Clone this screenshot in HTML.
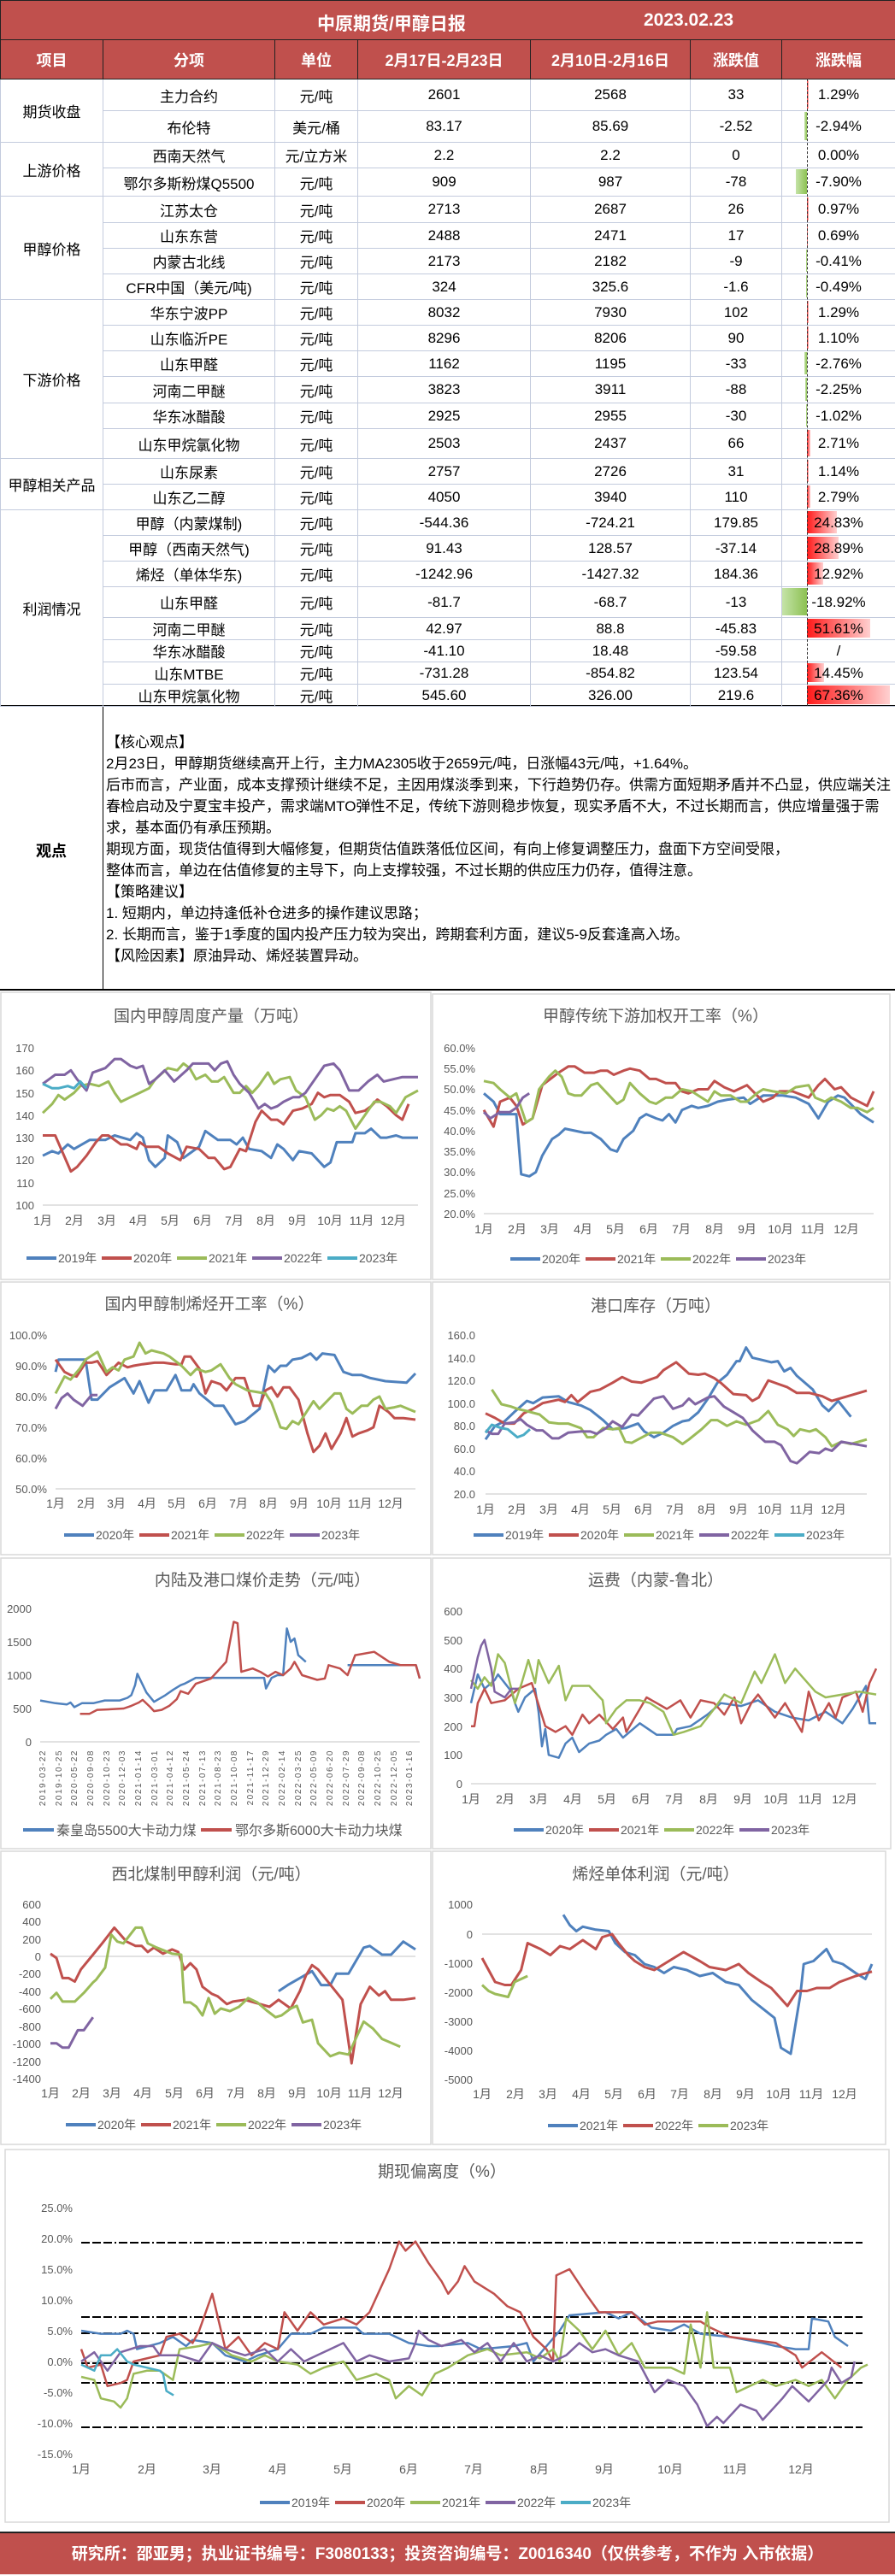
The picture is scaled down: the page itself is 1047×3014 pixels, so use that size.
<!DOCTYPE html>
<html><head><meta charset="utf-8"><style>
*{margin:0;padding:0;box-sizing:border-box}
body{width:1047px;height:3012px;position:relative;background:#fff;font-family:"Liberation Sans","Noto Sans CJK SC",sans-serif;overflow:hidden}
table{position:absolute;left:0;top:0;width:1047px;border-collapse:collapse;table-layout:fixed;z-index:2}
td{border:1px solid #c3cbdd;text-align:center;font-size:17px;color:#000;white-space:nowrap;overflow:hidden;padding:0;background:transparent}
tr.h td{background:#c0504d;color:#fff;font-weight:bold;font-size:18px;border-color:#222}
#bars{position:absolute;left:0;top:0;z-index:1}
.bar{position:absolute}
.r{background:linear-gradient(to right,#ff1a1a,#ffd0d0)}
.g{background:linear-gradient(to right,#c5e3a8,#8cc152)}
#view{position:absolute;left:0;top:825px;width:1047px;height:334px;border-top:2px solid #000;border-bottom:2px solid #000}
#view .l{position:absolute;left:120px;top:0;bottom:0;border-left:1px solid #000}
#view .t{position:absolute;left:0;width:120px;top:155px;text-align:center;font-weight:bold;font-size:18px}
#view p{position:absolute;left:124px;font-size:17px;white-space:nowrap;line-height:20px}
#foot{position:absolute;left:0;top:2962px;width:1047px;height:50px;background:#c0504d;color:#fff;font-weight:bold;font-size:19px;text-align:center;line-height:50px;border-top:2px solid #222}
svg{position:absolute;left:0;top:0}
svg text{font-family:"Liberation Sans","Noto Sans CJK SC",sans-serif;fill:#595959}
</style></head><body>
<div id="bars"></div>
<table>
<colgroup><col style="width:120px"><col style="width:201px"><col style="width:97px"><col style="width:202px"><col style="width:187px"><col style="width:107px"><col style="width:133px"></colgroup>
<tr class="h" style="height:46px"><td colspan="7" style="position:relative;font-size:21px"><span style="position:absolute;left:370px;top:11px">中原期货/甲醇日报</span><span style="position:absolute;left:752px;top:11px">2023.02.23</span></td></tr>
<tr class="h" style="height:46px"><td>项目</td><td>分项</td><td>单位</td><td>2月17日-2月23日</td><td>2月10日-2月16日</td><td>涨跌值</td><td>涨跌幅</td></tr>
<tr style="height:37px"><td rowspan="2">期货收盘</td><td>主力合约</td><td>元/吨</td><td>2601</td><td>2568</td><td>33</td><td>1.29%</td></tr>
<tr style="height:37px"><td>布伦特</td><td>美元/桶</td><td>83.17</td><td>85.69</td><td>-2.52</td><td>-2.94%</td></tr>
<tr style="height:30px"><td rowspan="2">上游价格</td><td>西南天然气</td><td>元/立方米</td><td>2.2</td><td>2.2</td><td>0</td><td>0.00%</td></tr>
<tr style="height:33px"><td>鄂尔多斯粉煤Q5500</td><td>元/吨</td><td>909</td><td>987</td><td>-78</td><td>-7.90%</td></tr>
<tr style="height:31px"><td rowspan="4">甲醇价格</td><td>江苏太仓</td><td>元/吨</td><td>2713</td><td>2687</td><td>26</td><td>0.97%</td></tr>
<tr style="height:30px"><td>山东东营</td><td>元/吨</td><td>2488</td><td>2471</td><td>17</td><td>0.69%</td></tr>
<tr style="height:30px"><td>内蒙古北线</td><td>元/吨</td><td>2173</td><td>2182</td><td>-9</td><td>-0.41%</td></tr>
<tr style="height:30px"><td>CFR中国（美元/吨)</td><td>元/吨</td><td>324</td><td>325.6</td><td>-1.6</td><td>-0.49%</td></tr>
<tr style="height:30px"><td rowspan="6">下游价格</td><td>华东宁波PP</td><td>元/吨</td><td>8032</td><td>7930</td><td>102</td><td>1.29%</td></tr>
<tr style="height:30px"><td>山东临沂PE</td><td>元/吨</td><td>8296</td><td>8206</td><td>90</td><td>1.10%</td></tr>
<tr style="height:30px"><td>山东甲醛</td><td>元/吨</td><td>1162</td><td>1195</td><td>-33</td><td>-2.76%</td></tr>
<tr style="height:31px"><td>河南二甲醚</td><td>元/吨</td><td>3823</td><td>3911</td><td>-88</td><td>-2.25%</td></tr>
<tr style="height:30px"><td>华东冰醋酸</td><td>元/吨</td><td>2925</td><td>2955</td><td>-30</td><td>-1.02%</td></tr>
<tr style="height:35px"><td>山东甲烷氯化物</td><td>元/吨</td><td>2503</td><td>2437</td><td>66</td><td>2.71%</td></tr>
<tr style="height:30px"><td rowspan="2">甲醇相关产品</td><td>山东尿素</td><td>元/吨</td><td>2757</td><td>2726</td><td>31</td><td>1.14%</td></tr>
<tr style="height:30px"><td>山东乙二醇</td><td>元/吨</td><td>4050</td><td>3940</td><td>110</td><td>2.79%</td></tr>
<tr style="height:30px"><td rowspan="8">利润情况</td><td>甲醇（内蒙煤制)</td><td>元/吨</td><td>-544.36</td><td>-724.21</td><td>179.85</td><td>24.83%</td></tr>
<tr style="height:30px"><td>甲醇（西南天然气)</td><td>元/吨</td><td>91.43</td><td>128.57</td><td>-37.14</td><td>28.89%</td></tr>
<tr style="height:30px"><td>烯烃（单体华东)</td><td>元/吨</td><td>-1242.96</td><td>-1427.32</td><td>184.36</td><td>12.92%</td></tr>
<tr style="height:36px"><td>山东甲醛</td><td>元/吨</td><td>-81.7</td><td>-68.7</td><td>-13</td><td>-18.92%</td></tr>
<tr style="height:26px"><td>河南二甲醚</td><td>元/吨</td><td>42.97</td><td>88.8</td><td>-45.83</td><td>51.61%</td></tr>
<tr style="height:26px"><td>华东冰醋酸</td><td>元/吨</td><td>-41.10</td><td>18.48</td><td>-59.58</td><td>/</td></tr>
<tr style="height:26px"><td>山东MTBE</td><td>元/吨</td><td>-731.28</td><td>-854.82</td><td>123.54</td><td>14.45%</td></tr>
<tr style="height:26px"><td>山东甲烷氯化物</td><td>元/吨</td><td>545.60</td><td>326.00</td><td>219.6</td><td>67.36%</td></tr>
</table>
<div style="position:absolute;left:944px;top:92px;height:734px;border-left:1px dashed #333;z-index:3"></div>

<div id="view"><div class="l"></div><div class="t">观点</div>
<p style="top:32px">【核心观点】</p>
<p style="top:57px">2月23日，甲醇期货继续高开上行，主力MA2305收于2659元/吨，日涨幅43元/吨，+1.64%。</p>
<p style="top:82px">后市而言，产业面，成本支撑预计继续不足，主因用煤淡季到来，下行趋势仍存。供需方面短期矛盾并不凸显，供应端关注</p>
<p style="top:107px">春检启动及宁夏宝丰投产，需求端MTO弹性不足，传统下游则稳步恢复，现实矛盾不大，不过长期而言，供应增量强于需</p>
<p style="top:132px">求，基本面仍有承压预期。</p>
<p style="top:157px">期现方面，现货估值得到大幅修复，但期货估值跌落低位区间，有向上修复调整压力，盘面下方空间受限，</p>
<p style="top:182px">整体而言，单边在估值修复的主导下，向上支撑较强，不过长期的供应压力仍存，值得注意。</p>
<p style="top:207px">【策略建议】</p>
<p style="top:232px">1. 短期内，单边持逢低补仓进多的操作建议思路；</p>
<p style="top:257px">2. 长期而言，鉴于1季度的国内投产压力较为突出，跨期套利方面，建议5-9反套逢高入场。</p>
<p style="top:282px">【风险因素】原油异动、烯烃装置异动。</p>
</div>

<svg id="ch" width="1047" height="3012" viewBox="0 0 1047 3012">
<g fill="none" stroke="#d9d9d9" stroke-width="1.5">
<rect x="1" y="1161" width="503" height="336"/><rect x="506" y="1163" width="535" height="334"/>
<rect x="1" y="1500" width="503" height="319"/><rect x="506" y="1500" width="535" height="319"/>
<rect x="1" y="1823" width="503" height="340"/><rect x="506" y="1823" width="536" height="340"/>
<rect x="1" y="2166" width="503" height="343"/><rect x="506" y="2166" width="530" height="343"/>
<rect x="6" y="2515" width="1034" height="436"/>
</g>
<g font-size="19" text-anchor="middle">
<text x="247" y="1195">国内甲醇周度产量（万吨）</text>
<text x="767" y="1195">甲醇传统下游加权开工率（%）</text>
<text x="245" y="1532">国内甲醇制烯烃开工率（%）</text>
<text x="767" y="1534">港口库存（万吨）</text>
<text x="307" y="1855">内陆及港口煤价走势（元/吨）</text>
<text x="767" y="1855">运费（内蒙-鲁北）</text>
<text x="247" y="2199">西北煤制甲醇利润（元/吨）</text>
<text x="767" y="2199">烯烃单体利润（元/吨）</text>
<text x="517" y="2547">期现偏离度（%）</text>
</g>
<g stroke="#d9d9d9" stroke-width="1.5">
<line x1="50" y1="1410" x2="489" y2="1410"/><line x1="566" y1="1420" x2="1022" y2="1420"/>
<line x1="65" y1="1742" x2="486" y2="1742"/><line x1="568" y1="1748" x2="1014" y2="1748"/>
<line x1="47" y1="2038" x2="491" y2="2038"/><line x1="551" y1="2087" x2="1025" y2="2087"/>
<line x1="59" y1="2289" x2="486" y2="2289"/><line x1="564" y1="2263" x2="1020" y2="2263"/>
<line x1="95" y1="2763" x2="1009" y2="2763"/>
</g>
<g font-size="13" text-anchor="end">
<text x="40" y="1231">170</text><text x="40" y="1257">160</text><text x="40" y="1284">150</text><text x="40" y="1310">140</text><text x="40" y="1336">130</text><text x="40" y="1362">120</text><text x="40" y="1389">110</text><text x="40" y="1415">100</text>
<text x="556" y="1231">60.0%</text><text x="556" y="1255">55.0%</text><text x="556" y="1279">50.0%</text><text x="556" y="1304">45.0%</text><text x="556" y="1328">40.0%</text><text x="556" y="1352">35.0%</text><text x="556" y="1376">30.0%</text><text x="556" y="1401">25.0%</text><text x="556" y="1425">20.0%</text>
<text x="55" y="1567">100.0%</text><text x="55" y="1603">90.0%</text><text x="55" y="1639">80.0%</text><text x="55" y="1675">70.0%</text><text x="55" y="1711">60.0%</text><text x="55" y="1747">50.0%</text>
<text x="556" y="1567">160.0</text><text x="556" y="1594">140.0</text><text x="556" y="1620">120.0</text><text x="556" y="1647">100.0</text><text x="556" y="1673">80.0</text><text x="556" y="1700">60.0</text><text x="556" y="1726">40.0</text><text x="556" y="1753">20.0</text>
<text x="37" y="1887">2000</text><text x="37" y="1926">1500</text><text x="37" y="1965">1000</text><text x="37" y="2004">500</text><text x="37" y="2043">0</text>
<text x="541" y="1890">600</text><text x="541" y="1924">500</text><text x="541" y="1957">400</text><text x="541" y="1991">300</text><text x="541" y="2025">200</text><text x="541" y="2058">100</text><text x="541" y="2092">0</text>
<text x="48" y="2233">600</text><text x="48" y="2253">400</text><text x="48" y="2274">200</text><text x="48" y="2294">0</text><text x="48" y="2314">-200</text><text x="48" y="2335">-400</text><text x="48" y="2355">-600</text><text x="48" y="2376">-800</text><text x="48" y="2396">-1000</text><text x="48" y="2417">-1200</text><text x="48" y="2437">-1400</text>
<text x="553" y="2233">1000</text><text x="553" y="2268">0</text><text x="553" y="2302">-1000</text><text x="553" y="2336">-2000</text><text x="553" y="2370">-3000</text><text x="553" y="2404">-4000</text><text x="553" y="2438">-5000</text>
<text x="85" y="2588">25.0%</text><text x="85" y="2624">20.0%</text><text x="85" y="2660">15.0%</text><text x="85" y="2696">10.0%</text><text x="85" y="2732">5.0%</text><text x="85" y="2768">0.0%</text><text x="85" y="2804">-5.0%</text><text x="85" y="2840">-10.0%</text><text x="85" y="2876">-15.0%</text>
</g>
<g font-size="14" text-anchor="middle">
<g transform="translate(0,1433)"><text x="50">1月</text><text x="87">2月</text><text x="125">3月</text><text x="162">4月</text><text x="199">5月</text><text x="237">6月</text><text x="274">7月</text><text x="311">8月</text><text x="348">9月</text><text x="386">10月</text><text x="423">11月</text><text x="460">12月</text></g>
<g transform="translate(516,1443)"><text x="50">1月</text><text x="89">2月</text><text x="127">3月</text><text x="166">4月</text><text x="204">5月</text><text x="243">6月</text><text x="281">7月</text><text x="320">8月</text><text x="358">9月</text><text x="397">10月</text><text x="435">11月</text><text x="474">12月</text></g>
<g transform="translate(15,1764)"><text x="50">1月</text><text x="86">2月</text><text x="121">3月</text><text x="157">4月</text><text x="192">5月</text><text x="228">6月</text><text x="264">7月</text><text x="299">8月</text><text x="335">9月</text><text x="370">10月</text><text x="406">11月</text><text x="442">12月</text></g>
<g transform="translate(518,1771)"><text x="50">1月</text><text x="87">2月</text><text x="124">3月</text><text x="161">4月</text><text x="198">5月</text><text x="235">6月</text><text x="272">7月</text><text x="309">8月</text><text x="346">9月</text><text x="383">10月</text><text x="420">11月</text><text x="457">12月</text></g>
<g transform="translate(501,2110)"><text x="50">1月</text><text x="90">2月</text><text x="129">3月</text><text x="169">4月</text><text x="209">5月</text><text x="249">6月</text><text x="288">7月</text><text x="328">8月</text><text x="368">9月</text><text x="407">10月</text><text x="447">11月</text><text x="487">12月</text></g>
<g transform="translate(9,2454)"><text x="50">1月</text><text x="86">2月</text><text x="122">3月</text><text x="158">4月</text><text x="195">5月</text><text x="231">6月</text><text x="267">7月</text><text x="303">8月</text><text x="339">9月</text><text x="376">10月</text><text x="412">11月</text><text x="448">12月</text></g>
<g transform="translate(514,2455)"><text x="50">1月</text><text x="89">2月</text><text x="127">3月</text><text x="166">4月</text><text x="204">5月</text><text x="243">6月</text><text x="281">7月</text><text x="320">8月</text><text x="358">9月</text><text x="397">10月</text><text x="435">11月</text><text x="474">12月</text></g>
<g transform="translate(45,2894)"><text x="50">1月</text><text x="127">2月</text><text x="203">3月</text><text x="280">4月</text><text x="356">5月</text><text x="433">6月</text><text x="509">7月</text><text x="586">8月</text><text x="662">9月</text><text x="739">10月</text><text x="815">11月</text><text x="892">12月</text></g>
</g>
<g font-size="10" text-anchor="end" letter-spacing="1.5">
<text transform="rotate(-90 53 2047)" x="53" y="2047">2019-03-22</text><text transform="rotate(-90 72 2047)" x="72" y="2047">2019-10-25</text><text transform="rotate(-90 90 2047)" x="90" y="2047">2020-05-22</text><text transform="rotate(-90 109 2047)" x="109" y="2047">2020-09-08</text><text transform="rotate(-90 128 2047)" x="128" y="2047">2020-10-23</text><text transform="rotate(-90 146 2047)" x="146" y="2047">2020-12-03</text><text transform="rotate(-90 165 2047)" x="165" y="2047">2021-01-14</text><text transform="rotate(-90 184 2047)" x="184" y="2047">2021-03-01</text><text transform="rotate(-90 202 2047)" x="202" y="2047">2021-04-12</text><text transform="rotate(-90 221 2047)" x="221" y="2047">2021-05-24</text><text transform="rotate(-90 240 2047)" x="240" y="2047">2021-07-13</text><text transform="rotate(-90 258 2047)" x="258" y="2047">2021-08-23</text><text transform="rotate(-90 277 2047)" x="277" y="2047">2021-10-08</text><text transform="rotate(-90 296 2047)" x="296" y="2047">2021-11-17</text><text transform="rotate(-90 314 2047)" x="314" y="2047">2021-12-29</text><text transform="rotate(-90 333 2047)" x="333" y="2047">2022-02-14</text><text transform="rotate(-90 352 2047)" x="352" y="2047">2022-03-25</text><text transform="rotate(-90 370 2047)" x="370" y="2047">2022-05-09</text><text transform="rotate(-90 389 2047)" x="389" y="2047">2022-06-20</text><text transform="rotate(-90 408 2047)" x="408" y="2047">2022-07-29</text><text transform="rotate(-90 426 2047)" x="426" y="2047">2022-09-08</text><text transform="rotate(-90 445 2047)" x="445" y="2047">2022-10-25</text><text transform="rotate(-90 464 2047)" x="464" y="2047">2022-12-05</text><text transform="rotate(-90 482 2047)" x="482" y="2047">2023-01-16</text>
</g>
<g stroke="#000" stroke-width="2" stroke-dasharray="10,3,10,3,10,3,2,3">
<line x1="95" y1="2624" x2="1009" y2="2624"/><line x1="95" y1="2711" x2="1009" y2="2711"/><line x1="95" y1="2730" x2="1009" y2="2730"/><line x1="95" y1="2765" x2="1009" y2="2765"/><line x1="95" y1="2788" x2="1009" y2="2788"/><line x1="95" y1="2840" x2="1009" y2="2840"/>
</g>
<g id="series" fill="none" stroke-linejoin="round"></g>
<g font-size="14" id="leg">
<g transform="translate(31,1472)"><line x1="0" x2="35" stroke="#4f81bd" stroke-width="4"/><text x="37" y="5">2019年</text><line x1="88" x2="123" stroke="#c0504d" stroke-width="4"/><text x="125" y="5">2020年</text><line x1="176" x2="211" stroke="#9bbb59" stroke-width="4"/><text x="213" y="5">2021年</text><line x1="264" x2="299" stroke="#8064a2" stroke-width="4"/><text x="301" y="5">2022年</text><line x1="352" x2="387" stroke="#4bacc6" stroke-width="4"/><text x="389" y="5">2023年</text></g>
<g transform="translate(597,1473)"><line x1="0" x2="35" stroke="#4f81bd" stroke-width="4"/><text x="37" y="5">2020年</text><line x1="88" x2="123" stroke="#c0504d" stroke-width="4"/><text x="125" y="5">2021年</text><line x1="176" x2="211" stroke="#9bbb59" stroke-width="4"/><text x="213" y="5">2022年</text><line x1="264" x2="299" stroke="#8064a2" stroke-width="4"/><text x="301" y="5">2023年</text></g>
<g transform="translate(75,1796)"><line x1="0" x2="35" stroke="#4f81bd" stroke-width="4"/><text x="37" y="5">2020年</text><line x1="88" x2="123" stroke="#c0504d" stroke-width="4"/><text x="125" y="5">2021年</text><line x1="176" x2="211" stroke="#9bbb59" stroke-width="4"/><text x="213" y="5">2022年</text><line x1="264" x2="299" stroke="#8064a2" stroke-width="4"/><text x="301" y="5">2023年</text></g>
<g transform="translate(554,1796)"><line x1="0" x2="35" stroke="#4f81bd" stroke-width="4"/><text x="37" y="5">2019年</text><line x1="88" x2="123" stroke="#c0504d" stroke-width="4"/><text x="125" y="5">2020年</text><line x1="176" x2="211" stroke="#9bbb59" stroke-width="4"/><text x="213" y="5">2021年</text><line x1="264" x2="299" stroke="#8064a2" stroke-width="4"/><text x="301" y="5">2022年</text><line x1="352" x2="387" stroke="#4bacc6" stroke-width="4"/><text x="389" y="5">2023年</text></g>
<g transform="translate(27,2141)" font-size="16"><line x1="0" x2="36" stroke="#4f81bd" stroke-width="4"/><text x="39" y="6">秦皇岛5500大卡动力煤</text><line x1="208" x2="244" stroke="#c0504d" stroke-width="4"/><text x="248" y="6">鄂尔多斯6000大卡动力块煤</text></g>
<g transform="translate(601,2141)"><line x1="0" x2="35" stroke="#4f81bd" stroke-width="4"/><text x="37" y="5">2020年</text><line x1="88" x2="123" stroke="#c0504d" stroke-width="4"/><text x="125" y="5">2021年</text><line x1="176" x2="211" stroke="#9bbb59" stroke-width="4"/><text x="213" y="5">2022年</text><line x1="264" x2="299" stroke="#8064a2" stroke-width="4"/><text x="301" y="5">2023年</text></g>
<g transform="translate(77,2486)"><line x1="0" x2="35" stroke="#4f81bd" stroke-width="4"/><text x="37" y="5">2020年</text><line x1="88" x2="123" stroke="#c0504d" stroke-width="4"/><text x="125" y="5">2021年</text><line x1="176" x2="211" stroke="#9bbb59" stroke-width="4"/><text x="213" y="5">2022年</text><line x1="264" x2="299" stroke="#8064a2" stroke-width="4"/><text x="301" y="5">2023年</text></g>
<g transform="translate(641,2487)"><line x1="0" x2="35" stroke="#4f81bd" stroke-width="4"/><text x="37" y="5">2021年</text><line x1="88" x2="123" stroke="#c0504d" stroke-width="4"/><text x="125" y="5">2022年</text><line x1="176" x2="211" stroke="#9bbb59" stroke-width="4"/><text x="213" y="5">2023年</text></g>
<g transform="translate(304,2928)"><line x1="0" x2="35" stroke="#4f81bd" stroke-width="4"/><text x="37" y="5">2019年</text><line x1="88" x2="123" stroke="#c0504d" stroke-width="4"/><text x="125" y="5">2020年</text><line x1="176" x2="211" stroke="#9bbb59" stroke-width="4"/><text x="213" y="5">2021年</text><line x1="264" x2="299" stroke="#8064a2" stroke-width="4"/><text x="301" y="5">2022年</text><line x1="352" x2="387" stroke="#4bacc6" stroke-width="4"/><text x="389" y="5">2023年</text></g>
</g>
</svg>
<div id="foot">研究所：邵亚男；执业证书编号：F3080133；投资咨询编号：Z0016340（仅供参考，不作为 入市依据）</div>
<script>
(function(){
var rows=[92,129,166,196,229,260,290,320,350,380,410,440,471,501,536,566,596,626,656,686,722,748,774,800,826];
var B=[[0,'r',944,2],[1,'g',941,3],[3,'g',931,13],[4,'r',944,2],[5,'r',944,1],[6,'g',943,1],[7,'g',943,1],[8,'r',944,2],[9,'r',944,2],[10,'g',941,3],[11,'g',942,2],[12,'g',943,1],[13,'r',944,4],[14,'r',944,2],[15,'r',944,4],[16,'r',944,35],[17,'r',944,37],[18,'r',944,19],[19,'g',915,29],[20,'r',944,74],[22,'r',944,20],[23,'r',944,97]];
var h='';B.forEach(function(b){var t=rows[b[0]]+2,hh=rows[b[0]+1]-rows[b[0]]-4;h+='<div class="bar '+b[1]+'" style="left:'+b[2]+'px;top:'+t+'px;width:'+b[3]+'px;height:'+hh+'px"></div>';});
document.getElementById('bars').innerHTML=h;
var C={1:[50,489,12,100,1410,170,1226],2:[566,1022,12,20,1420,60,1226],3:[65,486,12,50,1742,100,1562],4:[568,1014,12,20,1748,160,1562],5:[47,491,1,0,2038,2000,1882],6:[551,1025,12,0,2087,600,1885],7:[59,486,12,0,2289,600,2228],8:[564,1020,12,0,2263,1000,2228],9:[95,1015,12,0,2763,20,2619]};
var col={b:'#4f81bd',r:'#c0504d',g:'#9bbb59',p:'#8064a2',c:'#4bacc6'};
var out='';
function L(k,c,a,w){var q=C[k],p=[];for(var i=0;i<a.length;i+=2){var x=q[0]+a[i]/q[2]*(q[1]-q[0]);var y=q[4]+(a[i+1]-q[3])*(q[6]-q[4])/(q[5]-q[3]);p.push(x.toFixed(1)+','+y.toFixed(1));}
out+='<polyline stroke="'+col[c]+'" stroke-width="'+(w||3)+'" points="'+p.join(' ')+'"/>';}
L(1,'b',[0,122,.3,124,.5,123,.8,127,1,125,1.5,129,2,129,2.3,131,2.8,129,3,132,3.2,130,3.4,120,3.6,117,3.9,121,4,131,4.3,128,4.5,121,4.8,124,5,126,5.2,133,5.6,129,6,129,6.2,127,6.4,130,6.6,125,7,124,7.3,121,7.5,127,7.7,125,8,120,8.2,124,8.6,123,9,117,9.2,119,9.4,128,9.9,128,10,132,10.3,132,10.5,134,10.8,130,11,130,11.3,131,11.5,130,12,130]);
L(1,'r',[0,131,.4,131,.9,115,1.1,117,1.4,122,1.7,128,1.9,131,2.1,131,2.5,127,2.7,127,3,125,3.1,128,3.3,126,3.7,126,4,123,4.4,120,4.6,126,5,125,5.3,121,5.5,121,5.8,116,6,117,6.3,125,6.5,124,6.8,137,7,142,7.3,138,7.5,138,7.7,136,8,142,8.3,143,8.6,145,8.8,150,9,148,9.2,149,9.5,149,9.8,146,10,141,10.3,142,10.5,144,10.7,147,11,144,11.3,140,11.5,138,11.7,145]);
L(1,'g',[0,141,.3,145,.5,149,.7,147,1,150,1.2,153,1.5,154,1.8,153,2.1,155,2.3,150,2.5,146,2.8,148,3.1,150,3.4,152,3.6,156,4,161,4.3,160,4.5,163,4.7,161,4.9,156,5.2,158,5.4,155,5.6,155,5.8,157,6.1,150,6.3,150,6.5,153,6.7,150,6.9,153,7.2,159,7.4,154,7.6,156,7.9,157,8.1,151,8.4,148,8.7,138,8.9,140,9.1,143,9.3,142,9.5,144,9.7,142,10,134,10.3,140,10.6,146,10.8,146,11.1,144,11.3,141,11.6,148,12,151]);
L(1,'p',[0,154,.2,156,.4,158,.7,158,.9,160,1.1,156,1.4,151,1.6,159,1.8,160,2,161,2.3,165,2.5,165,2.8,162,3,161,3.2,162,3.4,154,3.6,156,3.9,160,4.2,155,4.6,160,4.8,163,5.3,163,5.5,160,5.7,163,5.9,164,6.1,158,6.3,154,6.6,150,6.9,143,7.1,145,7.3,143,7.5,144,7.7,146,8,148,8.2,148,8.4,150,8.7,156,9,162,9.3,163,9.5,160,9.8,151,10.1,151,10.4,155,10.7,158,10.9,155,11.2,156,11.5,157,12,157]);
L(1,'c',[0,154,.3,152,.5,152,.8,153,1,152,1.2,155,1.4,152]);
L(2,'b',[0,49,.3,47,.5,44,1,44,1.15,29.5,1.4,29,1.6,30,1.8,34,2.1,38,2.3,39,2.5,40.5,2.8,40,3.1,39.5,3.3,39.5,3.6,38,3.9,35.5,4.1,35,4.3,38,4.6,40,4.8,43,5,44,5.3,43,5.5,42.5,5.7,44,5.9,42,6.1,45,6.4,46,6.6,45.5,6.9,46,7.2,47,7.5,47.5,8,48,8.2,46.5,8.6,48.5,9.2,48.5,9.6,48,10,46.5,10.3,43,10.6,47,10.9,48.5,11.1,48,11.6,44,12,42]);
L(2,'r',[0,45,.3,41,.5,47,.8,48,1,46,1.2,41.5,1.5,43,1.8,51,2.3,54,2.6,55.5,2.8,55.5,3.1,54,3.4,54,3.6,54.5,3.8,54.5,4,53.5,4.3,54.5,4.5,55,4.8,54.5,5.1,52.5,5.3,52.5,5.6,51.5,5.9,51.5,6.1,49.5,6.3,49,6.6,50,6.9,50,7.1,52,7.4,50.5,7.7,49.5,8.1,51,8.6,47,8.9,48,9.1,49.5,9.5,49.5,10,48,10.3,51,10.5,52.5,10.8,50,11,50.5,11.3,48,11.8,46,12,49.5]);
L(2,'g',[0,52,.3,51.5,.5,50,.8,48,1,49,1.3,42,1.5,43,1.7,50,2,53,2.2,54.5,2.4,53,2.6,49,2.8,48.5,3,48.5,3.3,51,3.5,51.5,3.8,49,4.1,46.5,4.3,47.5,4.5,51.5,4.8,49,5.1,47,5.3,46.5,5.6,48,5.8,48,6.1,50,6.4,49.5,6.6,48.5,6.9,47,7.1,49.5,7.3,48.5,7.6,48.5,7.9,47,8.1,47,8.4,49,8.6,50,8.9,49.5,9.3,49,9.6,50.5,10,51,10.2,48,10.5,47,10.7,48,11,47,11.3,45.5,11.5,45.5,11.8,44.5,12,45.5]);
L(2,'p',[0,44.5,.2,43,.5,44.5,.8,44.5,1,45.5,1.2,48,1.4,49]);
L(3,'b',[0,88,.1,92,1,92,1.2,79,1.4,79,1.8,83,2.3,86,2.6,81,2.8,85,3.1,78,3.3,82,3.7,82,4,87,4.2,82,4.5,82,4.6,84,4.8,81,5.3,77,5.6,77,6,71,6.3,72,6.8,76,7.1,90,7.3,88,7.5,90,7.7,90,7.9,92,8.2,92.5,8.5,94,8.7,92,8.9,94,9.3,93.5,9.6,88,9.9,87,10.2,87,10.5,86,11,85,11.7,84.5,12,87.5]);
L(3,'r',[0,92,.3,88,.5,87,.7,86.5,1,91,1.2,91,1.4,91.5,1.7,87,2,90,2.1,91,2.4,89.5,2.6,90,2.9,90.5,3.3,91,3.6,91,4,90.5,4.2,90.5,4.3,93,4.5,93,4.8,89,5,81,5.2,85,5.5,84,5.7,82,6,86,6.3,86,6.6,77,6.8,77,7,82,7.2,83,7.4,80,7.6,83,7.8,83,8.1,79,8.4,68,8.6,62,8.8,64,9,68,9.2,63,9.5,68,9.7,73,9.9,67,10.1,68,10.4,69,10.6,70,10.8,77,11.1,75,11.3,73,11.6,73,12,72.5]);
L(3,'g',[0,81,.3,86.5,.5,85.5,.8,89,1,92,1.4,94.5,1.7,88,1.9,89.5,2.1,88.5,2.3,92,2.6,93,2.8,97.5,3,94,3.2,95,3.6,94,3.8,93,4.2,90,4.5,87,4.7,89,5,88,5.2,88.5,5.5,90.5,5.8,86,6,84,6.4,82,6.7,81.5,7,81,7.2,78,7.5,70,7.7,69.5,7.9,72,8.1,71,8.3,74,8.6,78.5,8.8,76,9.1,79,9.3,81,9.5,81,9.7,76,9.9,74.5,10.2,77,10.4,77,10.6,79,10.8,80,11,76,11.3,76.5,11.5,77,12,75]);
L(3,'p',[0,76,.2,79.5,.4,81,.6,79,.9,77,1.2,80.5,1.4,80.5]);
L(4,'b',[0,68,.3,80,.6,84,.9,92,1.3,102,1.5,100,1.8,105,2.3,106,2.6,101,3,98,3.3,94,3.7,85,4,77,4.4,78,4.8,82,5,75,5.3,70,5.6,74,5.9,80,6.2,84,6.4,85,6.7,92,7,104,7.3,118,7.6,125,7.9,137,8,137,8.2,149,8.4,140,8.7,138,9,136,9.2,137,9.4,128,9.6,131,9.8,124,10.3,112,10.6,98,10.8,93,11.1,102,11.5,88]);
L(4,'r',[0,91,.3,87,.6,82,.9,82,1.2,91,1.5,95,1.8,100,2.3,103,2.5,101,2.7,107,2.9,101,3.3,110,3.6,112,4,118,4.3,123,4.6,119,4.9,118,5.2,121,5.4,123,5.6,129,6,136,6.2,131,6.4,126,6.7,125,6.9,126,7.2,122,7.4,118,7.8,108,8.2,107,8.4,102,8.6,105,8.9,120,9.2,117,9.5,114,9.8,109,10.2,109,10.6,106,10.9,102,12,111]);
L(4,'g',[.2,112,.5,99,.8,97,1,95,1.3,93,1.7,90,2,83,2.3,82,2.6,82,3,78,3.2,70,3.4,70,3.7,78,4,77,4.2,78,4.4,66,4.6,65,4.8,68,5.2,74,5.5,74,5.9,70,6.2,64,6.4,68,6.8,77,7.1,85,7.3,85,7.6,80,7.9,84,8.2,81,8.6,85,8.9,93,9.2,81,9.5,77,9.7,71,9.9,77,10.2,75,10.4,77,10.7,70,10.9,62,11.2,66,11.5,64,12,68]);
L(4,'p',[0,76,.2,73,.4,73,.6,82,.9,83,1.1,86,1.3,81,1.6,76,1.8,76,2.1,69,2.3,69,2.6,74,3,75,3.3,75,3.5,73,3.8,78,4,84,4.3,79,4.6,90,4.8,89,5.1,98,5.3,104,5.6,106,5.9,95,6.2,98,6.4,104,6.6,99,7,105,7.2,106,7.5,97,7.8,92,8.1,87,8.4,76,8.8,66,9.1,66,9.3,63,9.6,49,9.8,47,10,52,10.2,57,10.5,56,10.7,60,10.9,58,11.2,66,11.4,65,12,62]);
L(4,'c',[0,74,.2,81,.5,78,.7,77,1,70,1.2,72,1.4,77]);
L(5,'b',[0,620,.04,580,.07,560,.08,590,.09,520,.11,580,.14,580,.17,620,.21,620,.23,660,.24,700,.25,850,.256,1020,.28,740,.3,600,.33,700,.35,780,.37,850,.38,870,.41,960,.59,960,.595,800,.61,960,.625,1000,.64,1000,.65,1700,.66,1500,.67,1550,.68,1300,.7,1200],2.5);
L(5,'b',[.81,1150,.99,1150,1,950],2.5);
L(5,'r',[.105,420,.13,420,.15,480,.19,490,.22,500,.24,540,.26,590,.27,630,.29,520,.3,460,.32,480,.34,540,.36,640,.37,760,.39,720,.41,870,.45,950,.49,1200,.51,1800,.52,1780,.53,1050,.56,1100,.58,1050,.6,980,.62,1050,.64,1000,.66,1100,.67,1200,.69,1000,.73,930,.75,950,.76,1150,.79,1100,.81,1000,.83,1300,.88,1350,.92,1200,.95,1150,.99,1150,1,950],2.5);
L(6,'b',[0,280,.2,380,.4,330,.7,360,.8,380,1.2,320,1.3,280,1.4,250,1.6,300,1.9,330,2,250,2.1,130,2.2,190,2.3,100,2.6,90,2.8,140,3,160,3.2,110,3.5,140,3.8,150,4,170,4.3,190,4.5,160,5,210,5.5,170,6,170,6.1,190,6.5,200,7,240,7.4,280,8,270,8.5,290,9,250,9.5,230,10,220,10.5,250,11,210,11.3,260,11.7,340,11.8,210,12,210],2.5);
L(6,'r',[0,200,.1,200,.2,280,.4,330,.6,280,1,290,1.4,330,1.8,350,2.2,200,2.5,180,2.8,200,3,170,3.3,240,3.5,210,3.8,240,4.2,190,4.5,230,4.6,180,5,260,5.2,300,5.5,280,5.8,260,6.2,290,6.5,230,6.8,290,7.2,280,7.5,240,7.8,300,8,210,8.3,280,8.5,310,9,230,9.3,280,9.5,240,9.8,180,10,320,10.3,220,10.6,280,10.8,230,11,300,11.4,320,11.6,250,11.8,350,12,400],2.5);
L(6,'g',[0,360,.2,330,.4,370,.6,340,.8,450,1,420,1.3,280,1.5,350,1.7,430,1.9,350,2,430,2.3,350,2.6,410,2.8,290,3,340,3.5,340,3.9,290,4,210,4.3,260,4.6,290,5,290,5.3,280,5.7,250,6,170,6.3,180,6.8,200,7.2,260,7.5,310,8,280,8.4,390,8.6,350,9,450,9.3,350,9.6,400,9.9,360,10.2,320,10.5,300,11,310,11.5,320,12,310],2.5);
L(6,'p',[0,330,.2,440,.3,480,.4,500,.6,400,.7,320,1,300,1.2,330,1.4,330],2.5);
L(7,'b',[7.5,-400,7.8,-330,8.6,-170,8.9,-330,9.2,-330,9.4,-200,9.8,-200,10.3,100,10.5,120,10.9,20,11.2,20,11.6,170,12,80]);
L(7,'r',[0,30,.2,-20,.4,-250,.6,-250,.8,-290,1,-150,1.4,20,1.7,150,2.1,330,2.5,170,2.8,120,3,120,3.2,50,3.4,100,3.7,30,4,80,4.2,50,4.4,-150,4.6,-80,4.8,-150,5,-350,5.3,-430,5.5,-460,5.8,-550,6,-520,6.4,-500,6.6,-520,7,-560,7.2,-580,7.5,-500,7.9,-600,8.2,-400,8.4,-220,8.6,-100,8.8,-150,9.6,-500,9.9,-1230,10.2,-550,10.5,-350,10.8,-450,11,-400,11.2,-500,11.6,-500,12,-480]);
L(7,'g',[0,-490,.2,-420,.4,-520,.8,-520,1.1,-420,1.4,-300,1.5,-270,1.8,-130,2,250,2.2,170,2.4,150,2.8,330,3,330,3.2,150,3.5,100,4,30,4.3,20,4.4,-530,4.6,-530,4.8,-580,5,-680,5.2,-480,5.4,-660,5.6,-600,5.9,-630,6.2,-580,6.5,-480,6.8,-530,7.1,-620,7.4,-700,7.6,-680,7.9,-600,8.1,-570,8.3,-760,8.6,-730,8.8,-1000,9.2,-1150,9.5,-1110,9.8,-1130,10.1,-900,10.3,-750,10.6,-830,10.9,-950,11.1,-980,11.5,-1040]);
L(7,'p',[0,-1000,.2,-1000,.4,-1050,.6,-1050,.9,-850,1.1,-850,1.4,-700]);
L(8,'b',[2.5,650,2.7,300,2.9,100,3.1,250,3.5,150,3.9,100,4.1,-300,4.4,-600,4.7,-700,5,-1000,5.3,-1100,5.6,-1300,5.9,-1100,6.3,-1200,6.7,-1400,7.1,-1300,7.5,-1600,7.9,-1700,8.3,-2200,9,-2800,9.2,-3800,9.5,-4000,9.8,-2000,9.9,-1000,10.2,-900,10.6,-500,10.8,-900,11.1,-1000,11.5,-1300,11.8,-1500,12,-1000]);
L(8,'r',[0,-800,.2,-1200,.4,-1600,.7,-1700,.9,-1700,1.2,-1200,1.4,-300,1.8,-500,2.1,-700,2.4,-400,2.7,-500,3.1,-200,3.5,-500,3.7,-100,4,0,4.2,-300,4.5,-700,4.7,-900,5,-1100,5.3,-1200,5.6,-1000,5.9,-800,6.2,-600,6.7,-900,7,-1100,7.5,-1200,7.9,-1000,8.2,-1300,8.6,-1600,8.9,-1800,9.4,-2400,9.7,-1900,10,-1900,10.3,-1800,10.7,-1800,11,-1600,11.5,-1400,12,-1250]);
L(8,'g',[0,-1700,.2,-1900,.4,-2000,.8,-2100,1,-1600,1.4,-1400]);
L(9,'b',[0,5,.3,4.5,.6,4.5,.7,5,.8,4.5,.85,2,1.2,3,1.4,4,1.6,2.5,1.7,3.5,2,3,2.2,1,2.5,0,2.7,1,3,2,3.2,4.5,3.5,4.5,3.7,5.5,4.2,5.5,4.3,4.5,4.7,4.5,5,3,5.3,2.5,5.45,2.5,5.9,3,6.1,2,6.6,2.5,6.8,3,6.9,0,7.1,2.5,7.3,5,7.45,7.5,8,8,8.2,7,8.4,8,8.7,5.5,9,5,9.2,6,9.45,4.5,9.9,4,10.4,3,10.6,2.5,10.9,2,11.1,2,11.15,7,11.4,6.5,11.5,4,11.7,2.5],2.5);
L(9,'r',[0,2,.1,-1,.3,-0.5,.4,-4,.6,-3.5,.7,-3,.8,0,1,.5,1.2,1,1.3,4,1.5,4.5,1.7,3,1.8,5,2,11,2.2,2,2.4,4,2.6,1,2.8,3,3,2,3.1,8,3.3,5,3.5,8,3.7,6,4,7,4.2,6,4.4,8,4.7,15,4.85,19.5,4.95,18,5.1,19.5,5.3,16,5.5,13,5.6,11,5.75,13,5.85,15.5,6,13,6.3,11,6.5,9,6.7,8,6.9,4,7.1,2,7.2,0,7.25,14,7.45,15,7.7,11,7.9,8,8.1,8,8.4,8,8.6,6,8.8,6.5,9.45,6.5,9.6,5.5,9.9,4,10.6,3,10.9,1,11,-1,11.3,1.5,11.6,-1],2.5);
L(9,'g',[0,-2.5,.2,-3,.3,-6,.5,-6.5,.6,-7.5,.7,-6,.8,-2,1,-1.5,1.2,-1.5,1.4,-3,1.5,2,1.8,2.5,2,3,2.3,1,2.6,0,2.8,1,3,0,3.3,-0.5,3.5,-2,3.7,-1,4,0,4.2,-3,4.5,-2,4.7,-3,4.8,-6,5,-4,5.2,-5.5,5.4,-2,5.6,-1,5.9,1,6.2,2,6.4,1,6.8,1.5,7,.5,7.2,2,7.3,0,7.4,7,7.6,5,7.8,2,8,5,8.2,1,8.4,3,8.6,-1,9,-1,9.2,-2,9.3,6,9.45,-1,9.55,8,9.65,-1,9.9,-1,10,-5,10.4,-3,10.6,-4,10.9,-3,11.1,-4,11.3,-3,11.5,-6,11.7,-3,11.9,-1,12,-0.5],2.5);
L(9,'p',[0,0,.2,1.5,.4,-1.5,.6,1.5,.9,2.5,1.1,2.5,1.2,1,1.5,1,1.8,0,2,3,2.2,2,2.5,1,2.8,2,3,0,3.2,2,3.4,0,3.6,1,3.8,2,4,3,4.2,0,4.4,1,4.7,0,5,.5,5.1,3,5.15,5,5.3,3.5,5.5,2.5,5.8,3.5,6,1.5,6.2,3,6.4,0,6.6,3,6.8,0,7,1,7.2,0,7.4,1,7.6,3,7.8,1.5,8,2,8.2,1,8.5,0,8.75,-5,8.95,-3,9.2,-4,9.4,-7,9.55,-10.5,9.7,-9,9.8,-10,10.06,-7,10.3,-8,10.4,-9.5,10.7,-6,10.85,-4,11.1,-6.5,11.4,-3,11.45,-1,11.6,-3.5,11.75,-2.5,11.8,0],2.5);
L(9,'c',[0,-.5,.2,-1.5,.3,1,.45,1,.55,2,.7,0,.8,-.5,1,-1,1.2,-1.5,1.25,-2,1.3,-4.8,1.41,-5.5],2.5);
document.getElementById('series').innerHTML=out;
})();
</script>
</body></html>
